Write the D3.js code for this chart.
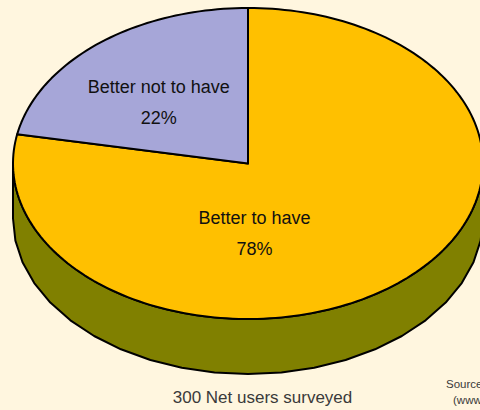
<!DOCTYPE html>
<html>
<head>
<meta charset="utf-8">
<script src="https://cdn.jsdelivr.net/npm/d3@7"></script>
<style>
  html, body { margin: 0; padding: 0; background: #FFF6DF; overflow: hidden; }
  svg { display: block; }
</style>
</head>
<body>
<svg id="chart" width="480" height="410"></svg>
<script>
// ---- data ----
const categories = ["Better to have", "Better not to have"];
const values = [78, 22];
const percentLabels = ["78%", "22%"];
const footnote = "300 Net users surveyed";
const sourceLines = ["Source", "(www"];

// ---- layout / style ----
const W = 480, H = 410;
const cx = 248, cy = 163.5, rx = 235, ry = 155.5, depth = 55;
const topColors = ["#FFC000", "#A6A6D8"];
const sideColors = ["#808000", "#6B6B99"];
const labelRel = [[0.028, 0.43], [-0.38, -0.415]]; // label centre relative to ellipse radii
const bg = "#FFF6DF";

const svg = d3.select("#chart");
svg.append("rect").attr("width", W).attr("height", H).attr("fill", bg);

const xs = d3.scaleLinear().domain([-1, 1]).range([cx - rx, cx + rx]);
const ys = d3.scaleLinear().domain([-1, 1]).range([cy - ry, cy + ry]);

const arcs = d3.pie().sort(null).value(d => d)(values);

const pt = (a, dy = 0) => [xs(Math.sin(a)), ys(-Math.cos(a)) + dy];
function sample(a0, a1, dy, n) {
  const pts = [];
  const steps = Math.max(2, Math.ceil(Math.abs(a1 - a0) / (2 * Math.PI) * n));
  for (let i = 0; i <= steps; i++) pts.push(pt(a0 + (a1 - a0) * i / steps, dy));
  return pts;
}
const line = d3.line();

// sides (visible front half: angles pi/2 .. 3pi/2)
const g = svg.append("g");
arcs.forEach((d, i) => {
  const a0 = Math.max(d.startAngle, Math.PI / 2);
  const a1 = Math.min(d.endAngle, 3 * Math.PI / 2);
  if (a1 <= a0) return;
  const topPts = sample(a0, a1, 0, 200);
  const botPts = sample(a1, a0, depth, 44);
  g.append("path")
    .attr("d", line(topPts.concat(botPts)) + "Z")
    .attr("fill", sideColors[i])
    .attr("stroke", "#000")
    .attr("stroke-width", 2)
    .attr("stroke-linejoin", "round");
});

// tops
arcs.forEach((d, i) => {
  const pts = [[cx, cy]].concat(sample(d.startAngle, d.endAngle, 0, 240));
  g.append("path")
    .attr("d", line(pts) + "Z")
    .attr("fill", topColors[i])
    .attr("stroke", "#000")
    .attr("stroke-width", 2)
    .attr("stroke-linejoin", "round");
});

// labels
arcs.forEach((d, i) => {
  const lx = xs(labelRel[i][0]);
  const ly = ys(labelRel[i][1]);
  const t = svg.append("text")
    .attr("text-anchor", "middle")
    .attr("font-family", "Liberation Sans, Arial, sans-serif")
    .attr("font-size", 18)
    .attr("fill", "#111");
  t.append("tspan").attr("x", lx).attr("y", ly - 6).text(categories[i]);
  t.append("tspan").attr("x", lx).attr("y", ly + 25).text(percentLabels[i]);
});

// footnote
svg.append("text")
  .attr("x", 262.5).attr("y", 403)
  .attr("text-anchor", "middle")
  .attr("font-family", "Liberation Sans, Arial, sans-serif")
  .attr("font-size", 17)
  .attr("fill", "#3a3a3a")
  .text(footnote);

svg.append("text")
  .attr("font-family", "Liberation Sans, Arial, sans-serif")
  .attr("font-size", 11.5)
  .attr("fill", "#3a3a3a")
  .selectAll("tspan").data(sourceLines).join("tspan")
  .attr("x", (d, i) => i === 0 ? 446 : 453)
  .attr("y", (d, i) => i === 0 ? 388 : 404)
  .text(d => d);
</script>
</body>
</html>
